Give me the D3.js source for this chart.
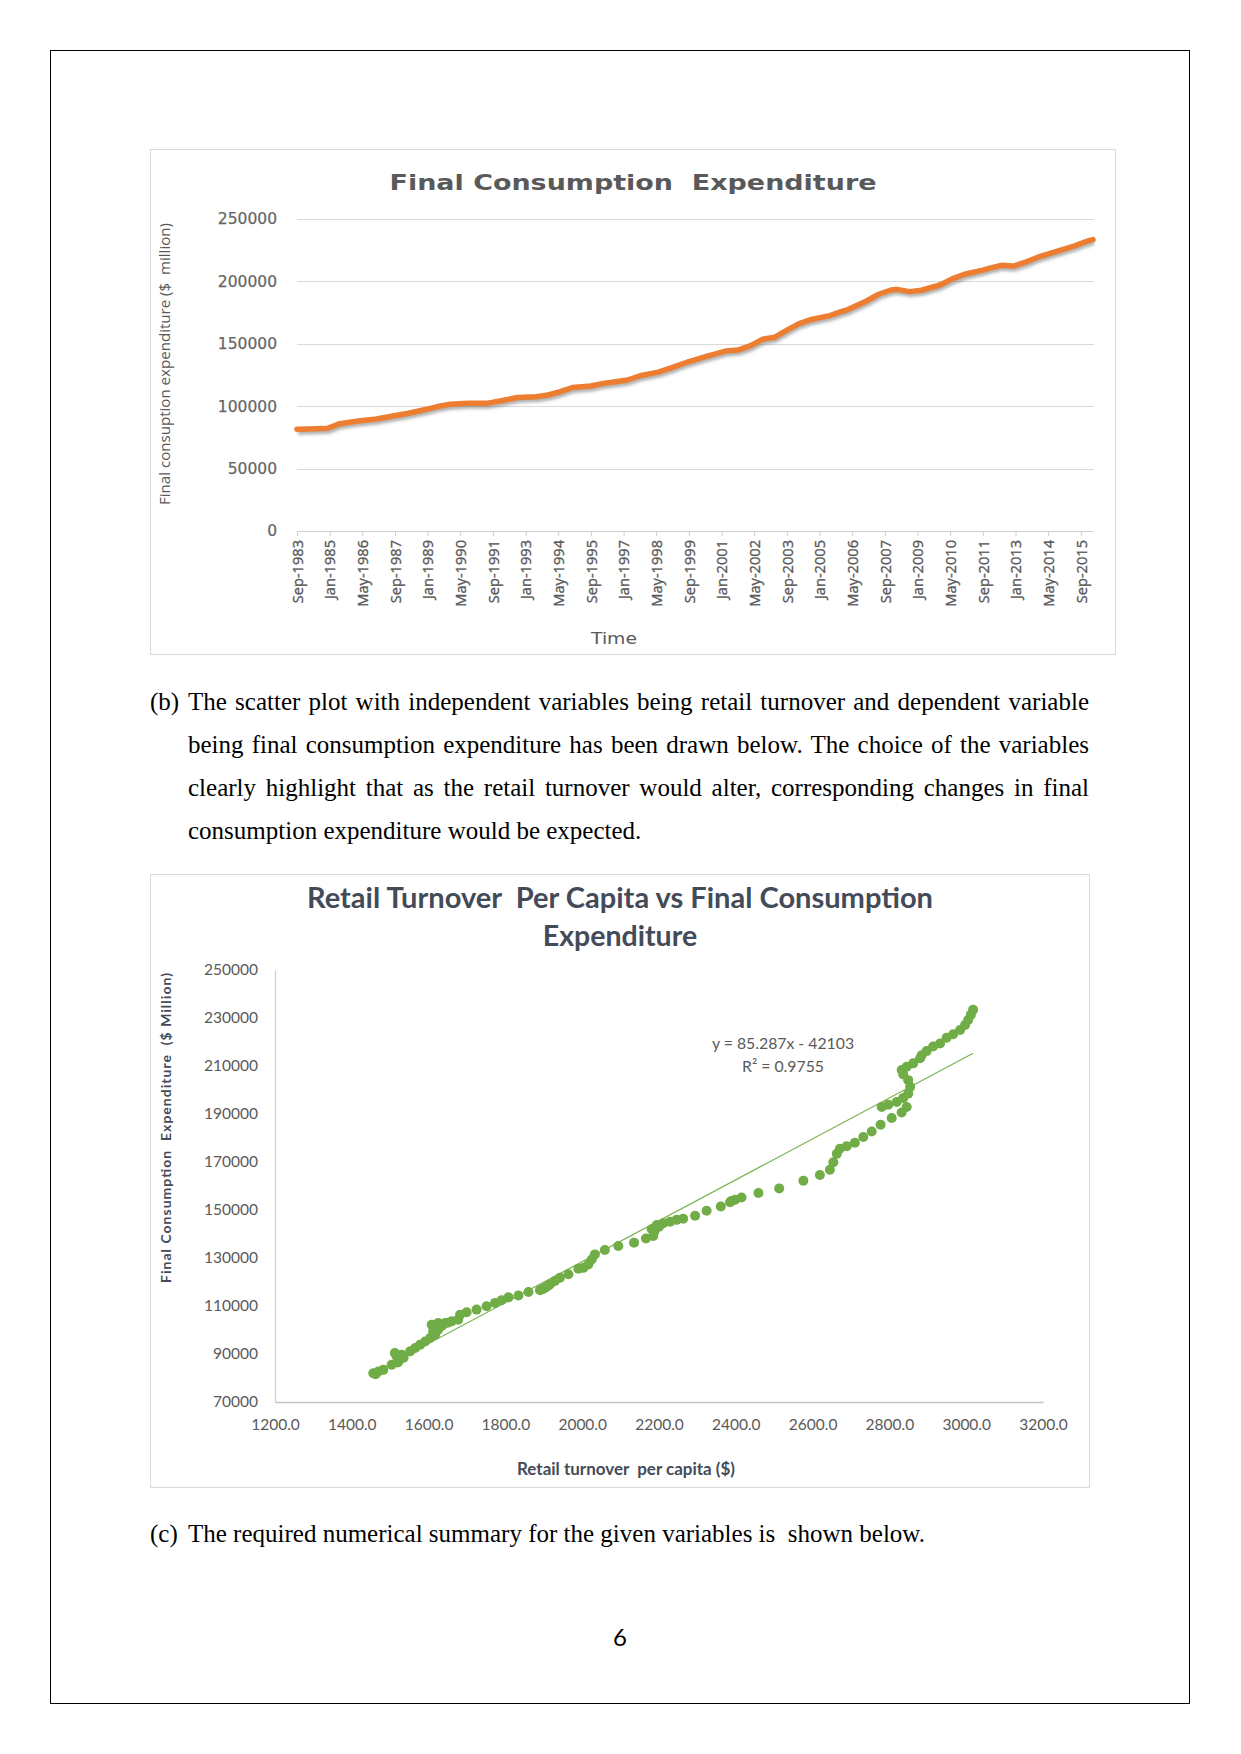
<!DOCTYPE html>
<html><head><meta charset="utf-8">
<script src="https://cdn.jsdelivr.net/npm/d3@7"></script>
<style>body{margin:0;background:#fff} svg text{white-space:pre}</style>
</head><body>
<script>
// ---------- Chart 1 data: Final Consumption Expenditure over time ----------
const fceDates = ["Sep-1983","Mar-1984","Dec-1984","Jun-1985","Mar-1986","Dec-1986","Jun-1987","Mar-1988","Dec-1988","Jun-1989","Dec-1989","Sep-1990","Jun-1991","Mar-1992","Sep-1992","Jun-1993","Dec-1993","Jun-1994","Dec-1994","Sep-1995","Mar-1996","Sep-1996","Mar-1997","Sep-1997","Jun-1998","Dec-1998","Sep-1999","Jun-2000","Mar-2001","Sep-2001","Mar-2002","Sep-2002","Mar-2003","Sep-2003","Mar-2004","Sep-2004","Jun-2005","Dec-2005","Mar-2006","Dec-2006","Jun-2007","Dec-2007","Mar-2008","Sep-2008","Mar-2009","Dec-2009","Jun-2010","Dec-2010","Sep-2011","Dec-2011","Jun-2012","Dec-2012","Jun-2013","Dec-2013","Jun-2014","Dec-2014","Jun-2015","Dec-2015","Mar-2016"];
const fceValues = [81500,81800,82300,86000,88100,89700,91600,94200,97400,99700,101600,102300,102300,105000,107000,107600,109000,111600,115000,116200,118300,119600,121000,124400,127300,130500,135800,140200,144200,145000,148300,153600,155200,161000,166200,169500,172600,175900,177400,184300,189700,193100,193600,191800,192900,197100,202000,205700,209000,210400,212900,212300,215500,219400,222500,225500,228500,232200,233500];
const timeTickLabels = ["Sep-1983","Jan-1985","May-1986","Sep-1987","Jan-1989","May-1990","Sep-1991","Jan-1993","May-1994","Sep-1995","Jan-1997","May-1998","Sep-1999","Jan-2001","May-2002","Sep-2003","Jan-2005","May-2006","Sep-2007","Jan-2009","May-2010","Sep-2011","Jan-2013","May-2014","Sep-2015"];
const fceTicks = [0,50000,100000,150000,200000,250000];

// ---------- Chart 2 data: Retail turnover per capita vs FCE ----------
const retailTurnover = [1456,1462,1469,1482,1504,1512,1517,1520,1525,1530,1535,1552,1565,1578,1591,1604,1608,1612,1617,1620,1625,1625,1635,1643,1650,1660,1677,1682,1699,1725,1751,1773,1790,1808,1834,1860,1890,1897,1903,1910,1916,1929,1942,1964,1990,2003,2016,2025,2033,2059,2094,2135,2166,2181,2185,2188,2194,2200,2211,2229,2246,2263,2294,2324,2361,2385,2389,2398,2415,2459,2513,2576,2619,2645,2654,2663,2671,2689,2710,2732,2754,2777,2780,2797,2806,2819,2832,2836,2845,2849,2854,2849,2836,2832,2845,2862,2880,2884,2897,2914,2932,2949,2966,2984,2997,3005,3012,3018];
const scatterFce = [82000,81600,82700,83400,85500,90400,89000,86500,87600,89700,88500,91100,92500,93900,95200,96700,102200,99500,98000,101500,100100,102900,101800,102900,103000,103600,104300,106400,107400,108500,109900,111300,112400,113600,114400,115800,116600,117000,117600,118200,119000,120400,121800,123200,125500,125900,127300,129400,131500,133300,135000,136400,138100,142000,139200,141000,143700,143000,144500,145100,145900,146400,147600,149700,151500,153200,153800,154300,155200,157100,159000,162200,164600,166800,169900,173400,175500,176600,178000,180400,182700,185500,192900,193900,188300,195000,190600,196700,192900,198500,201300,204100,206500,208300,209700,211100,213200,214500,216200,218100,219400,221800,223200,225000,227100,229200,231300,233400];
const retailTicks = [1200,1400,1600,1800,2000,2200,2400,2600,2800,3000,3200];
const scatterFceTicks = [70000,90000,110000,130000,150000,170000,190000,210000,230000,250000];
const trendSlope = 85.287;
const trendIntercept = -42103;
const trendLabel = ["y = 85.287x - 42103", "R\u00B2 = 0.9755"];

// ---------- Page text ----------
const paraB = [
  "The scatter plot with independent variables being retail turnover and dependent variable",
  "being final consumption expenditure has been drawn below. The choice of the variables",
  "clearly highlight that as the retail turnover would alter, corresponding changes in final",
  "consumption expenditure would be expected."
];
const paraC = "The required numerical summary for the given variables is  shown below.";

const svg = d3.select("body").append("svg").attr("width",1241).attr("height",1754)
  .style("display","block");

const defs = svg.append("defs");
defs.append("filter").attr("id","shadow").attr("x","-5%").attr("y","-20%").attr("width","110%").attr("height","140%")
  .append("feGaussianBlur").attr("stdDeviation",1.6);

// page border
svg.append("rect").attr("x",50.5).attr("y",50.5).attr("width",1139).attr("height",1653)
  .attr("fill","none").attr("stroke","#000").attr("stroke-width",1);

// ================= Chart 1 =================
const c1 = svg.append("g");
c1.append("rect").attr("x",150.5).attr("y",149.5).attr("width",965).attr("height",505)
  .attr("fill","#fff").attr("stroke","#d9d9d9");

const parseT = d3.timeParse("%b-%Y");
const x1 = d3.scaleTime().domain([parseT("Sep-1983"), parseT("Mar-2016")]).range([297, 1093]);
const y1 = d3.scaleLinear().domain([0,250000]).range([531,219]);

// gridlines
c1.append("g").selectAll("line").data(fceTicks.filter(d=>d>0)).join("line")
  .attr("x1",297).attr("x2",1094).attr("y1",d=>Math.round(y1(d))+0.5).attr("y2",d=>Math.round(y1(d))+0.5)
  .attr("stroke","#d9d9d9").attr("stroke-width",1);

// y labels
c1.append("g").selectAll("text").data(fceTicks).join("text")
  .attr("x",277).attr("y",d=>y1(d)).attr("dy","0.35em").attr("text-anchor","end")
  .attr("font-family","DejaVu Sans").attr("font-size",15.5).attr("fill","#666")
  .attr("stroke","#666").attr("stroke-width",0.25)
  .text(d=>d);

// x axis
const xAx = d3.axisBottom(x1).tickValues(timeTickLabels.map(parseT))
  .tickFormat(d3.timeFormat("%b-%Y")).tickSize(5).tickSizeOuter(0);
const gx1 = c1.append("g").attr("transform","translate(0,531)").call(xAx);
gx1.select(".domain").attr("stroke","#d0d0d0").attr("stroke-width",1.2);
gx1.selectAll(".tick line").attr("stroke","#cfcfcf");
gx1.selectAll(".tick text")
  .attr("transform","rotate(-90)").attr("text-anchor","end")
  .attr("x",-9).attr("y",0).attr("dy","0.36em")
  .attr("font-family","Open Sans").attr("font-size",14.6).attr("fill","#595959")
  .attr("stroke","#595959").attr("stroke-width",0.35);

// line with shadow
const pts = fceDates.map((d,i)=>({t:parseT(d), v:fceValues[i]}));
const line1 = d3.line().x(d=>x1(d.t)).y(d=>y1(d.v));
c1.append("path").datum(pts).attr("d",line1).attr("fill","none")
  .attr("stroke","#555").attr("stroke-opacity",0.45).attr("stroke-width",5)
  .attr("stroke-linejoin","round").attr("transform","translate(1,3)").attr("filter","url(#shadow)");
c1.append("path").datum(pts).attr("d",line1).attr("fill","none")
  .attr("stroke","#ED7D31").attr("stroke-width",5.5).attr("stroke-linejoin","round").attr("stroke-linecap","round");

// titles
c1.append("text").attr("x",633).attr("y",190).attr("text-anchor","middle")
  .attr("font-family","DejaVu Sans").attr("font-weight","bold").attr("font-size",21)
  .attr("fill","#595959").attr("textLength",487).attr("lengthAdjust","spacingAndGlyphs")
  .text("Final Consumption  Expenditure");
c1.append("text").attr("transform","translate(170,364) rotate(-90)").attr("text-anchor","middle")
  .attr("font-family","Open Sans").attr("font-size",14.5).attr("fill","#595959")
  .attr("textLength",282).attr("lengthAdjust","spacingAndGlyphs")
  .text("Final consuption expenditure ($  million)");
c1.append("text").attr("x",614).attr("y",644).attr("text-anchor","middle")
  .attr("font-family","DejaVu Sans").attr("font-size",15).attr("fill","#595959")
  .attr("textLength",46).attr("lengthAdjust","spacingAndGlyphs")
  .text("Time");

// ================= Paragraph (b) =================
const serif = "Liberation Serif";
function addLine(x, y, txt, width){
  const t = svg.append("text").attr("x",x).attr("y",y).attr("font-family",serif)
    .attr("font-size",25).attr("fill","#000").text(txt);
  if(width){
    const L = t.node().getComputedTextLength();
    const n = (txt.match(/ /g)||[]).length;
    if(n) t.style("word-spacing", ((width-L)/n)+"px");
  }
  return t;
}
addLine(150, 709.5, "(b)");
const bBase = [709.5, 752.5, 795.5, 838.5];
paraB.forEach((s,i)=> addLine(188, bBase[i], s, i<3 ? 1089-188 : null));

addLine(150, 1542, "(c)");
addLine(188, 1542, paraC);

svg.append("text").attr("x",620).attr("y",1646).attr("text-anchor","middle")
  .attr("font-family","Lato").attr("font-size",24).attr("fill","#000").text("6");

// ================= Chart 2 =================
const c2 = svg.append("g");
c2.append("rect").attr("x",150.5).attr("y",874.5).attr("width",939).attr("height",613)
  .attr("fill","#fff").attr("stroke","#d9d9d9");

const x2 = d3.scaleLinear().domain([1200,3200]).range([275,1043]);
const y2 = d3.scaleLinear().domain([70000,250000]).range([1402,970]);

const gy2 = c2.append("g").attr("transform","translate(275,0)")
  .call(d3.axisLeft(y2).tickValues(scatterFceTicks).tickSize(0).tickPadding(17).tickFormat(d=>d));
gy2.select(".domain").attr("stroke","#d0d0d0").attr("stroke-width",1.3);
gy2.selectAll("text").attr("font-family","Lato").attr("font-size",15.5).attr("fill","#595959");

const gx2 = c2.append("g").attr("transform","translate(0,1402)")
  .call(d3.axisBottom(x2).tickValues(retailTicks).tickSize(0).tickPadding(17).tickFormat(d3.format(".1f")));
gx2.select(".domain").attr("stroke","#c4c4c4").attr("stroke-width",1.6);
gx2.selectAll("text").attr("font-family","Lato").attr("font-size",15.5).attr("fill","#595959");

// trendline
const xMin = d3.min(retailTurnover), xMax = d3.max(retailTurnover);
c2.append("line")
  .attr("x1",x2(xMin)).attr("y1",y2(trendSlope*xMin+trendIntercept))
  .attr("x2",x2(xMax)).attr("y2",y2(trendSlope*xMax+trendIntercept))
  .attr("stroke","#7cb350").attr("stroke-width",1.2);

// points
c2.append("g").selectAll("circle").data(retailTurnover.map((x,i)=>[x,scatterFce[i]])).join("circle")
  .attr("cx",d=>x2(d[0])).attr("cy",d=>y2(d[1])).attr("r",5).attr("fill","#70AD47");

// trend label
c2.append("g").selectAll("text").data(trendLabel).join("text")
  .attr("x",783).attr("y",(d,i)=>1043+i*23).attr("dy","0.35em").attr("text-anchor","middle")
  .attr("font-family","Lato").attr("font-size",15.8).attr("fill","#595959").text(d=>d);

// titles
const t2 = c2.append("text").attr("text-anchor","middle").attr("font-family","Lato")
  .attr("font-weight","bold").attr("font-size",28.5).attr("fill","#434b58");
t2.append("tspan").attr("x",620).attr("y",908).attr("textLength",626).attr("lengthAdjust","spacingAndGlyphs")
  .text("Retail Turnover  Per Capita vs Final Consumption");
t2.append("tspan").attr("x",620).attr("y",946).text("Expenditure");

c2.append("text").attr("transform","translate(171,1128) rotate(-90)").attr("text-anchor","middle")
  .attr("font-family","Lato").attr("font-weight","bold").attr("font-size",14).attr("fill","#434b58")
  .attr("textLength",310).attr("lengthAdjust","spacing")
  .text("Final Consumption  Expenditure  ($ Million)");
c2.append("text").attr("x",626).attr("y",1475).attr("text-anchor","middle")
  .attr("font-family","Lato").attr("font-weight","bold").attr("font-size",16.5).attr("fill","#434b58")
  .attr("textLength",218).attr("lengthAdjust","spacingAndGlyphs")
  .text("Retail turnover  per capita ($)");
</script>
</body></html>
